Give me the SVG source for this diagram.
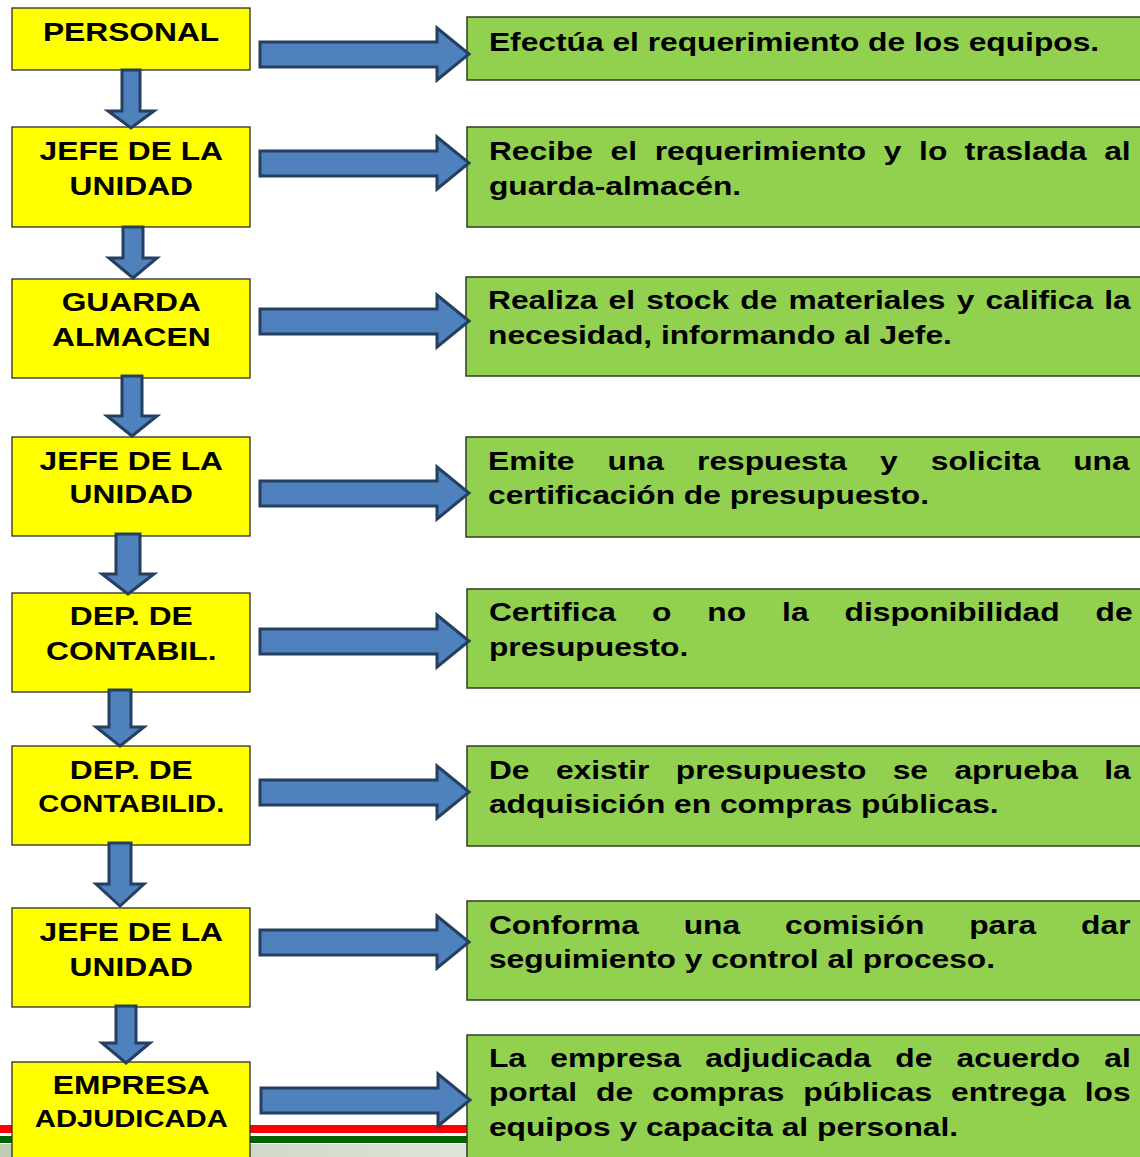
<svg xmlns="http://www.w3.org/2000/svg" width="1140" height="1157" viewBox="0 0 1140 1157">
<defs>
<linearGradient id="gr" x1="0" y1="0" x2="1" y2="0">
<stop offset="0" stop-color="#bfcbb3"/>
<stop offset="1" stop-color="#dfe4d8"/>
</linearGradient>
</defs>
<style>
.y{fill:#ffff00;stroke:#2b2b2b;stroke-width:1.3}
.g{fill:#92d050;stroke:#2f3f22;stroke-width:1.5}
.ar{fill:#4f81bd;stroke:#243f60;stroke-width:3;stroke-linejoin:miter}
text{font-family:"Liberation Sans",Arial,sans-serif;font-weight:bold;font-size:25px;fill:#000}
.c{text-anchor:middle}
</style>
<rect width="1140" height="1157" fill="#ffffff"/>
<g id="stripe">
<rect x="0" y="1125" width="467" height="8" fill="#ff0000"/>
<rect x="0" y="1136" width="467" height="7" fill="#006400"/>
<rect x="0" y="1144" width="467" height="13" fill="url(#gr)"/>
</g>

<g id="n1"><rect class="y" x="12" y="8" width="238" height="62"/>
<g transform="scale(1.27,1)"><text class="c" x="103.2" y="41">PERSONAL</text></g></g>
<g id="n2"><rect class="y" x="12" y="127" width="238" height="100"/>
<g transform="scale(1.27,1)"><text class="c" x="103.4" y="160">JEFE DE LA</text><text class="c" x="103.4" y="195">UNIDAD</text></g></g>
<g id="n3"><rect class="y" x="12" y="279" width="238" height="99"/>
<g transform="scale(1.27,1)"><text class="c" x="103.4" y="311">GUARDA</text><text class="c" x="103.4" y="346">ALMACEN</text></g></g>
<g id="n4"><rect class="y" x="12" y="437" width="238" height="99"/>
<g transform="scale(1.27,1)"><text class="c" x="103.4" y="470">JEFE DE LA</text><text class="c" x="103.4" y="503">UNIDAD</text></g></g>
<g id="n5"><rect class="y" x="12" y="593" width="238" height="99"/>
<g transform="scale(1.27,1)"><text class="c" x="103.4" y="625">DEP. DE</text><text class="c" x="103.4" y="660">CONTABIL.</text></g></g>
<g id="n6"><rect class="y" x="12" y="746" width="238" height="99"/>
<g transform="scale(1.27,1)"><text class="c" x="103.4" y="779">DEP. DE</text><text class="c" x="103.4" y="812" style="font-size:23px">CONTABILID.</text></g></g>
<g id="n7"><rect class="y" x="12" y="908" width="238" height="99"/>
<g transform="scale(1.27,1)"><text class="c" x="103.4" y="941">JEFE DE LA</text><text class="c" x="103.4" y="976">UNIDAD</text></g></g>
<g id="n8"><rect class="y" x="12" y="1062" width="238" height="110"/>
<g transform="scale(1.27,1)"><text class="c" x="103.4" y="1094">EMPRESA</text><text class="c" x="103.4" y="1127" style="font-size:23px">ADJUDICADA</text></g></g>

<g id="d1"><rect class="g" x="467" y="17" width="690" height="63"/>
<g transform="scale(1.27,1)"><text x="385" y="51">Efectúa el requerimiento de los equipos.</text></g></g>
<g id="d2"><rect class="g" x="467" y="127" width="690" height="100"/>
<g transform="scale(1.27,1)"><text x="385" y="160" word-spacing="6.9">Recibe el requerimiento y lo traslada al</text><text x="385" y="195">guarda-almacén.</text></g></g>
<g id="d3"><rect class="g" x="466" y="277" width="690" height="99"/>
<g transform="scale(1.27,1)"><text x="384.3" y="309" word-spacing="1.85">Realiza el stock de materiales y califica la</text><text x="384.3" y="344">necesidad, informando al Jefe.</text></g></g>
<g id="d4"><rect class="g" x="466" y="437" width="690" height="100"/>
<g transform="scale(1.27,1)"><text x="384.3" y="470" word-spacing="19.1">Emite una respuesta y solicita una</text><text x="384.3" y="504">certificación de presupuesto.</text></g></g>
<g id="d5"><rect class="g" x="467" y="589" width="690" height="99"/>
<g transform="scale(1.27,1)"><text x="385" y="621" word-spacing="21.4">Certifica o no la disponibilidad de</text><text x="385" y="656">presupuesto.</text></g></g>
<g id="d6"><rect class="g" x="467" y="746" width="690" height="100"/>
<g transform="scale(1.27,1)"><text x="385" y="779" word-spacing="13.85">De existir presupuesto se aprueba la</text><text x="385" y="813">adquisición en compras públicas.</text></g></g>
<g id="d7"><rect class="g" x="467" y="901" width="690" height="99"/>
<g transform="scale(1.27,1)"><text x="385" y="934" word-spacing="28.4">Conforma una comisión para dar</text><text x="385" y="968">seguimiento y control al proceso.</text></g></g>
<g id="d8"><rect class="g" x="467" y="1035" width="690" height="140"/>
<g transform="scale(1.27,1)"><text x="385" y="1067" word-spacing="12.2">La empresa adjudicada de acuerdo al</text><text x="385" y="1101" word-spacing="8">portal de compras públicas entrega los</text><text x="385" y="1136">equipos y capacita al personal.</text></g></g>

<g id="connectors">
<polygon class="ar" points="122,70 140,70 140,111 154,111 131,128 108,111 122,111"/>
<polygon class="ar" points="123,227 143,227 143,258 157,258 133,278 109,258 123,258"/>
<polygon class="ar" points="122,376 142,376 142,416 157,416 132,436 107,416 122,416"/>
<polygon class="ar" points="116,534 140,534 140,574 154,574 128,594 102,574 116,574"/>
<polygon class="ar" points="109,690 131,690 131,727 144,727 120,746 96,727 109,727"/>
<polygon class="ar" points="109,843 131,843 131,884 144,884 120,906 96,884 109,884"/>
<polygon class="ar" points="116,1006 136,1006 136,1043 150,1043 126,1063 102,1043 116,1043"/>

<polygon class="ar" points="260,42 437,42 437,28 469,54 437,80 437,67 260,67"/>
<polygon class="ar" points="260,151 437,151 437,137 469,163 437,189 437,176 260,176"/>
<polygon class="ar" points="260,309 437,309 437,295 469,321 437,347 437,334 260,334"/>
<polygon class="ar" points="260,481 437,481 437,467 469,493 437,519 437,506 260,506"/>
<polygon class="ar" points="260,629 437,629 437,615 469,641 437,667 437,654 260,654"/>
<polygon class="ar" points="260,780 437,780 437,766 469,792 437,818 437,805 260,805"/>
<polygon class="ar" points="260,930 437,930 437,916 469,942 437,968 437,955 260,955"/>
<polygon class="ar" points="261,1088 438,1088 438,1074 470,1100 438,1126 438,1113 261,1113"/>
</g>
</svg>
